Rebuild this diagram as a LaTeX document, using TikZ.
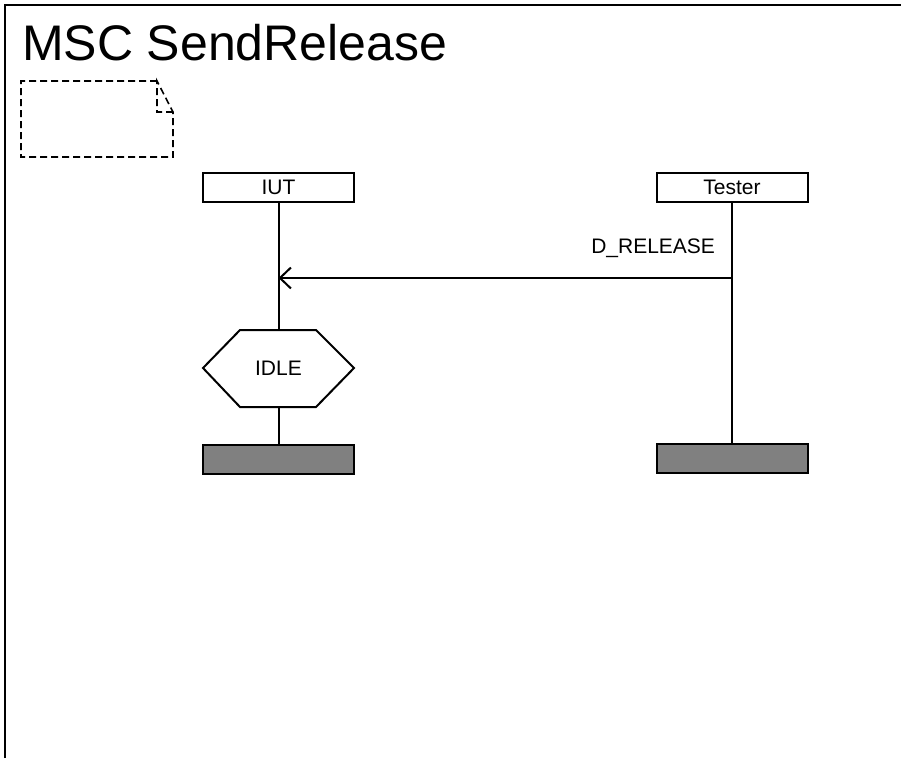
\documentclass[tikz,border=0pt]{standalone}
\usepackage{fontspec}
\setmainfont{Liberation Sans}
\usetikzlibrary{arrows.meta}
\begin{document}
\begin{tikzpicture}[x=1pt,y=-1pt,
  line width=2pt,
  headbox/.style={draw, rectangle, minimum width=151pt, minimum height=29pt, inner sep=0pt, font=\fontsize{21}{25}\selectfont},
  endbox/.style={draw, rectangle, fill=black!50, minimum width=151pt, minimum height=29pt, inner sep=0pt},
  lbl/.style={font=\fontsize{21}{25}\selectfont, inner sep=0pt},
  notestyle/.style={line width=1.6pt, dash pattern=on 7pt off 4pt},
  msg/.style={-{Straight Barb[length=11pt,width=21pt]}}
]
\useasboundingbox (0,0) rectangle (901,758);
% frame
\draw (5,758) -- (5,5) -- (901,5);
% title
\node[anchor=base west, inner sep=0pt, font=\fontsize{50}{60}\selectfont] (title) at (21,60) {MSC SendRelease};
% note
\draw[notestyle] (157,81) -- (21,81) -- (21,157) -- (173,157) -- (173,112) -- (157,81) -- (157,112) -- (173,112);
% instance heads
\node[headbox] (iut) at (278.5,187.5) {IUT};
\node[headbox] (tester) at (732,187.5) {Tester};
% instance ends
\node[endbox] (iutend) at (278.5,459) {};
\node[endbox] (testerend) at (732,458.5) {};
% condition IDLE
\node[lbl] (idle) at (278.5,368) {IDLE};
\coordinate (idletop) at (278.5,330);
\coordinate (idlebot) at (278.5,407);
\draw (203,368) -- (240,330) -- (316,330) -- (354,368) -- (316,407) -- (240,407) -- cycle;
% lifelines
\draw (iut.south) -- (idletop);
\draw (idlebot) -- (iutend.north);
\draw (tester.south) -- (testerend.north);
% message
\coordinate (ms) at (732,278);
\coordinate (me) at (278.5,278);
\draw[msg] (ms) -- (me);
\node[lbl, anchor=east] (mlabel) at (716,248) {D\_RELEASE};
\end{tikzpicture}
\end{document}
